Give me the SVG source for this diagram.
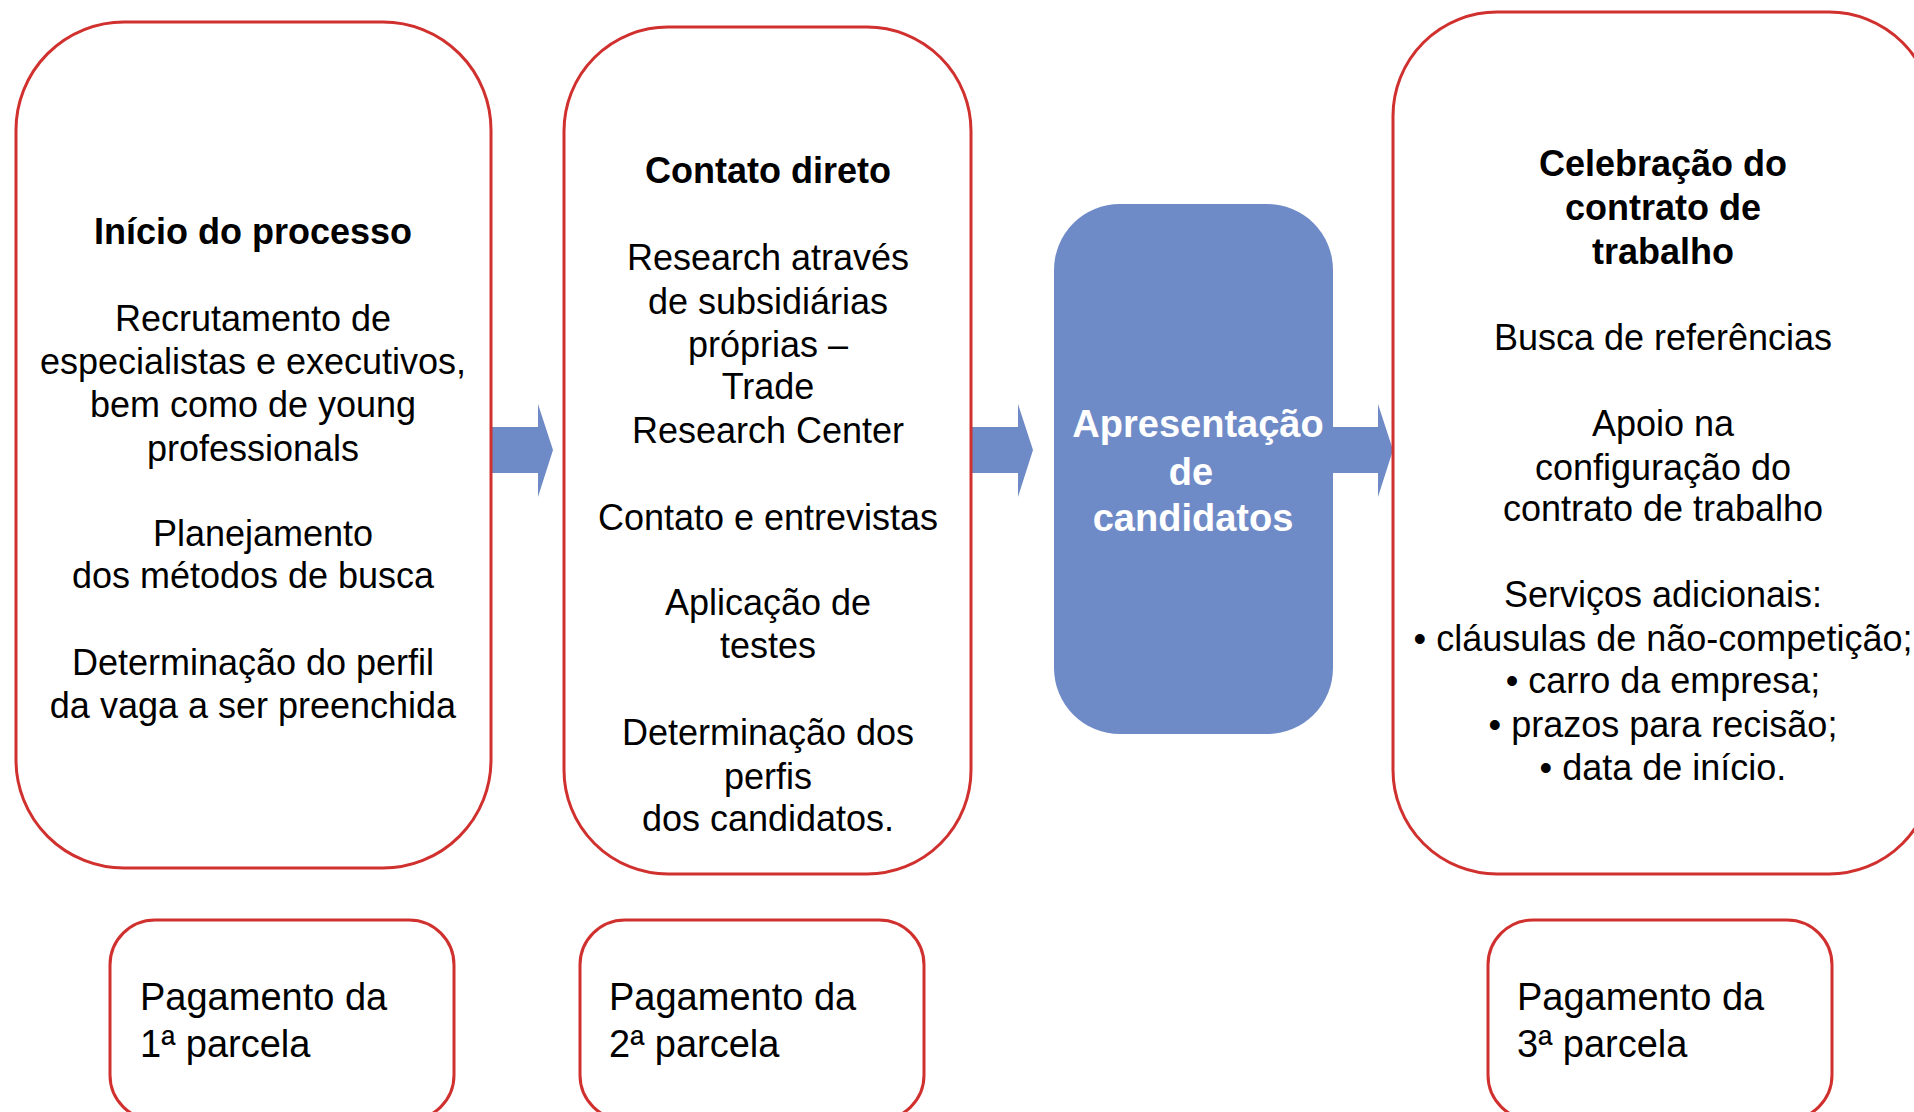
<svg xmlns="http://www.w3.org/2000/svg" width="1914" height="1112" viewBox="0 0 1914 1112">
<defs>
<style>
.box{fill:#fff;stroke:#D0302E;stroke-width:3}
.blue{fill:#6F8BC7}
.t{font-family:"Liberation Sans",Arial,sans-serif;font-size:36px;fill:#000;text-anchor:middle}
.b{font-weight:bold}
.w{font-family:"Liberation Sans",Arial,sans-serif;font-size:38px;font-weight:bold;fill:#fff;text-anchor:middle}
.p{font-family:"Liberation Sans",Arial,sans-serif;font-size:38px;fill:#000}
.arrow{fill:#6F8BC7}
</style>
</defs>
<rect width="1914" height="1112" fill="#fff"/>
<g id="connectors">
<path class="arrow" d="M490 427 H538 V404 L553 450 L538 497 V473 H490 Z"/>
<path class="arrow" d="M971 427 H1018 V404 L1033 450 L1018 497 V473 H971 Z"/>
<path class="arrow" d="M1332 427 H1378 V404 L1393 450 L1378 497 V473 H1332 Z"/>
</g>
<g id="inicio">
<rect class="box" x="16" y="22" width="475" height="846" rx="108" ry="108"/>
<text class="t b" x="253" y="244">Início do processo</text>
<text class="t" x="253" y="331">Recrutamento de</text>
<text class="t" x="253" y="374">especialistas e executivos,</text>
<text class="t" x="253" y="417">bem como de young</text>
<text class="t" x="253" y="461">professionals</text>
<text class="t" x="263" y="546">Planejamento</text>
<text class="t" x="253" y="588">dos métodos de busca</text>
<text class="t" x="253" y="675">Determinação do perfil</text>
<text class="t" x="253" y="718">da vaga a ser preenchida</text>
</g>
<g id="contato">
<rect class="box" x="564" y="27" width="407" height="847" rx="104" ry="104"/>
<text class="t b" x="768" y="183">Contato direto</text>
<text class="t" x="768" y="270">Research através</text>
<text class="t" x="768" y="314">de subsidiárias</text>
<text class="t" x="768" y="357">próprias –</text>
<text class="t" x="768" y="399">Trade</text>
<text class="t" x="768" y="443">Research Center</text>
<text class="t" x="768" y="530">Contato e entrevistas</text>
<text class="t" x="768" y="615">Aplicação de</text>
<text class="t" x="768" y="658">testes</text>
<text class="t" x="768" y="745">Determinação dos</text>
<text class="t" x="768" y="789">perfis</text>
<text class="t" x="768" y="831">dos candidatos.</text>
</g>
<g id="apresentacao">
<rect class="blue" x="1054" y="204" width="279" height="530" rx="66" ry="66"/>
<text class="w" x="1198" y="437">Apresentação</text>
<text class="w" x="1191" y="485">de</text>
<text class="w" x="1193" y="531">candidatos</text>
</g>
<g id="celebracao">
<rect class="box" x="1393" y="12" width="540" height="862" rx="104" ry="104"/>
<text class="t b" x="1663" y="176">Celebração do</text>
<text class="t b" x="1663" y="220">contrato de</text>
<text class="t b" x="1663" y="264">trabalho</text>
<text class="t" x="1663" y="350">Busca de referências</text>
<text class="t" x="1663" y="436">Apoio na</text>
<text class="t" x="1663" y="480">configuração do</text>
<text class="t" x="1663" y="521">contrato de trabalho</text>
<text class="t" x="1663" y="607">Serviços adicionais:</text>
<text class="t" x="1663" y="651">• cláusulas de não-competição;</text>
<text class="t" x="1663" y="693">• carro da empresa;</text>
<text class="t" x="1663" y="737">• prazos para recisão;</text>
<text class="t" x="1663" y="780">• data de início.</text>
</g>
<g id="pagamento1">
<rect class="box" x="110" y="920" width="344" height="200" rx="45" ry="45"/>
<text class="p" x="140" y="1010">Pagamento da</text>
<text class="p" x="140" y="1057">1ª parcela</text>
</g>
<g id="pagamento2">
<rect class="box" x="580" y="920" width="344" height="200" rx="45" ry="45"/>
<text class="p" x="609" y="1010">Pagamento da</text>
<text class="p" x="609" y="1057">2ª parcela</text>
</g>
<g id="pagamento3">
<rect class="box" x="1488" y="920" width="344" height="200" rx="45" ry="45"/>
<text class="p" x="1517" y="1010">Pagamento da</text>
<text class="p" x="1517" y="1057">3ª parcela</text>
</g>
</svg>
